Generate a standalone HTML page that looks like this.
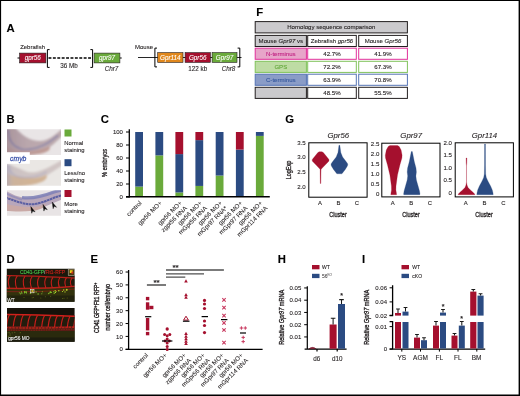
<!DOCTYPE html>
<html><head><meta charset="utf-8"><title>Figure</title>
<style>
html,body{margin:0;padding:0;background:#fff;}
body{width:520px;height:396px;overflow:hidden;position:relative;}
svg{position:absolute;left:0;top:0;display:block;font-family:"Liberation Sans",sans-serif;}
</style></head><body>
<svg width="520" height="396" viewBox="0 0 520 396">
<rect x="0" y="0" width="520" height="396" fill="#fff"/>
<text x="6.6" y="32" font-size="11.3" text-anchor="start" font-weight="bold" font-style="normal" fill="#000" stroke="#000" stroke-width="0.1" >A</text>
<text x="20.2" y="48.7" font-size="5.95" text-anchor="start" font-weight="normal" font-style="normal" fill="#231f20" stroke="#231f20" stroke-width="0.1" >Zebrafish</text>
<path d="M17.5 58H20M120 58H121.7" stroke="#000" stroke-width="1"/>
<rect x="19.6" y="53.1" width="26.3" height="9.8" fill="#a5102e" stroke="#231f20" stroke-width="0.6"/>
<text x="32.8" y="60.2" font-size="6.3" text-anchor="middle" font-weight="normal" font-style="italic" fill="#fff" stroke="#fff" stroke-width="0.1" >gpr56</text>
<path d="M49.6 49.6H47.4V67.4H49.6M90.4 49.6H92.6V67.4H90.4" fill="none" stroke="#000" stroke-width="1"/>
<path d="M48.5 58H92" stroke="#000" stroke-width="1.35" stroke-dasharray="2.9 1.5"/>
<rect x="94.1" y="53.1" width="25.8" height="9.8" fill="#6aaa3b" stroke="#231f20" stroke-width="0.6"/>
<text x="107" y="60.2" font-size="6.3" text-anchor="middle" font-weight="normal" font-style="italic" fill="#fff" stroke="#fff" stroke-width="0.1" >gpr97</text>
<text x="69" y="67.6" font-size="6.3" text-anchor="middle" font-weight="normal" font-style="normal" fill="#231f20" stroke="#231f20" stroke-width="0.1" >36 Mb</text>
<text x="111.5" y="71" font-size="6.3" text-anchor="middle" font-weight="normal" font-style="italic" fill="#231f20" stroke="#231f20" stroke-width="0.1" >Chr7</text>
<text x="135" y="48.7" font-size="6.0" text-anchor="start" font-weight="normal" font-style="normal" fill="#231f20" stroke="#231f20" stroke-width="0.1" >Mouse</text>
<path d="M138 57.5H241.5" stroke="#000" stroke-width="0.85"/>
<path d="M157 48.1H154.9V66.9H157M237.6 48.1H239.8V66.9H237.6" fill="none" stroke="#000" stroke-width="1"/>
<rect x="157.7" y="52.6" width="25.3" height="9.8" fill="#e0871c" stroke="#231f20" stroke-width="0.6"/>
<rect x="185.1" y="52.6" width="25.3" height="9.8" fill="#a5102e" stroke="#231f20" stroke-width="0.6"/>
<rect x="212.1" y="52.6" width="24.9" height="9.8" fill="#6aaa3b" stroke="#231f20" stroke-width="0.6"/>
<text x="170.3" y="59.7" font-size="6.3" text-anchor="middle" font-weight="normal" font-style="italic" fill="#fff" stroke="#fff" stroke-width="0.1" >Gpr114</text>
<text x="197.7" y="59.7" font-size="6.3" text-anchor="middle" font-weight="normal" font-style="italic" fill="#fff" stroke="#fff" stroke-width="0.1" >Gpr56</text>
<text x="224.5" y="59.7" font-size="6.3" text-anchor="middle" font-weight="normal" font-style="italic" fill="#fff" stroke="#fff" stroke-width="0.1" >Gpr97</text>
<text x="197.7" y="70.7" font-size="6.3" text-anchor="middle" font-weight="normal" font-style="normal" fill="#231f20" stroke="#231f20" stroke-width="0.1" >122 kb</text>
<text x="228.5" y="70.7" font-size="6.3" text-anchor="middle" font-weight="normal" font-style="italic" fill="#231f20" stroke="#231f20" stroke-width="0.1" >Chr8</text>
<text x="256.2" y="15.6" font-size="11.3" text-anchor="start" font-weight="bold" font-style="normal" fill="#000" stroke="#000" stroke-width="0.1" >F</text>
<rect x="255.2" y="21.6" width="152.2" height="11.3" fill="#cbcacd" stroke="#231f20" stroke-width="1"/>
<text x="331.3" y="29.3" font-size="6.05" text-anchor="middle" font-weight="normal" font-style="normal" fill="#231f20" stroke="#231f20" stroke-width="0.1" >Homology sequence comparison</text>
<rect x="255.2" y="35.4" width="51.2" height="11.1" fill="#cbcacd" stroke="#231f20" stroke-width="1"/>
<rect x="307.7" y="35.4" width="48.6" height="11.1" fill="#fff" stroke="#231f20" stroke-width="1"/>
<rect x="358.7" y="35.4" width="48.7" height="11.1" fill="#fff" stroke="#231f20" stroke-width="1"/>
<text x="280.8" y="43.1" font-size="6.05" text-anchor="middle" font-weight="normal" font-style="normal" fill="#231f20" stroke="#231f20" stroke-width="0.1" >Mouse <tspan font-style="italic">Gpr97</tspan> vs</text>
<text x="332" y="43.1" font-size="6.05" text-anchor="middle" font-weight="normal" font-style="normal" fill="#231f20" stroke="#231f20" stroke-width="0.1" >Zebrafish <tspan font-style="italic">gpr56</tspan></text>
<text x="383" y="43.1" font-size="6.05" text-anchor="middle" font-weight="normal" font-style="normal" fill="#231f20" stroke="#231f20" stroke-width="0.1" >Mouse <tspan font-style="italic">Gpr56</tspan></text>
<rect x="255.2" y="48.2" width="51.2" height="11.1" fill="#e7a5c9" stroke="#e0309a" stroke-width="1"/>
<rect x="307.7" y="48.2" width="48.6" height="11.1" fill="#fff" stroke="#e0309a" stroke-width="1"/>
<rect x="358.7" y="48.2" width="48.7" height="11.1" fill="#fff" stroke="#e0309a" stroke-width="1"/>
<text x="280.8" y="55.900000000000006" font-size="6.05" text-anchor="middle" font-weight="normal" font-style="normal" fill="#c01f80" stroke="#c01f80" stroke-width="0.1" >N-terminus</text>
<text x="332" y="55.900000000000006" font-size="6.15" text-anchor="middle" font-weight="normal" font-style="normal" fill="#231f20" stroke="#231f20" stroke-width="0.1" >42.7%</text>
<text x="383" y="55.900000000000006" font-size="6.15" text-anchor="middle" font-weight="normal" font-style="normal" fill="#231f20" stroke="#231f20" stroke-width="0.1" >41.9%</text>
<rect x="255.2" y="61.3" width="51.2" height="11.1" fill="#bedca4" stroke="#80c25b" stroke-width="1"/>
<rect x="307.7" y="61.3" width="48.6" height="11.1" fill="#fff" stroke="#80c25b" stroke-width="1"/>
<rect x="358.7" y="61.3" width="48.7" height="11.1" fill="#fff" stroke="#80c25b" stroke-width="1"/>
<text x="280.8" y="69.0" font-size="6.05" text-anchor="middle" font-weight="normal" font-style="normal" fill="#62a83a" stroke="#62a83a" stroke-width="0.1" >GPS</text>
<text x="332" y="69.0" font-size="6.15" text-anchor="middle" font-weight="normal" font-style="normal" fill="#231f20" stroke="#231f20" stroke-width="0.1" >72.2%</text>
<text x="383" y="69.0" font-size="6.15" text-anchor="middle" font-weight="normal" font-style="normal" fill="#231f20" stroke="#231f20" stroke-width="0.1" >67.3%</text>
<rect x="255.2" y="74.2" width="51.2" height="11.1" fill="#8a9cc7" stroke="#5473b4" stroke-width="1"/>
<rect x="307.7" y="74.2" width="48.6" height="11.1" fill="#fff" stroke="#5473b4" stroke-width="1"/>
<rect x="358.7" y="74.2" width="48.7" height="11.1" fill="#fff" stroke="#5473b4" stroke-width="1"/>
<text x="280.8" y="81.9" font-size="6.05" text-anchor="middle" font-weight="normal" font-style="normal" fill="#35579c" stroke="#35579c" stroke-width="0.1" >C-terminus</text>
<text x="332" y="81.9" font-size="6.15" text-anchor="middle" font-weight="normal" font-style="normal" fill="#231f20" stroke="#231f20" stroke-width="0.1" >63.9%</text>
<text x="383" y="81.9" font-size="6.15" text-anchor="middle" font-weight="normal" font-style="normal" fill="#231f20" stroke="#231f20" stroke-width="0.1" >70.8%</text>
<rect x="255.2" y="87.3" width="51.2" height="11.1" fill="#cbcacd" stroke="#231f20" stroke-width="1"/>
<rect x="307.7" y="87.3" width="48.6" height="11.1" fill="#fff" stroke="#231f20" stroke-width="1"/>
<rect x="358.7" y="87.3" width="48.7" height="11.1" fill="#fff" stroke="#231f20" stroke-width="1"/>
<text x="332" y="95.0" font-size="6.15" text-anchor="middle" font-weight="normal" font-style="normal" fill="#231f20" stroke="#231f20" stroke-width="0.1" >48.5%</text>
<text x="383" y="95.0" font-size="6.15" text-anchor="middle" font-weight="normal" font-style="normal" fill="#231f20" stroke="#231f20" stroke-width="0.1" >55.5%</text>
<text x="6.6" y="123.2" font-size="11.3" text-anchor="start" font-weight="bold" font-style="normal" fill="#000" stroke="#000" stroke-width="0.1" >B</text>
<defs>
<filter id="bl1" x="-10%" y="-10%" width="120%" height="120%"><feGaussianBlur stdDeviation="1.2"/></filter>
<filter id="bl2" x="-10%" y="-10%" width="120%" height="120%"><feGaussianBlur stdDeviation="0.6"/></filter>
<filter id="bl3" x="-10%" y="-10%" width="120%" height="120%"><feGaussianBlur stdDeviation="0.85"/></filter>
<clipPath id="cb1"><rect x="7" y="129.3" width="54" height="25.6"/></clipPath>
<clipPath id="cb2"><rect x="7" y="160" width="54" height="25.7"/></clipPath>
<clipPath id="cb3"><rect x="7" y="190.3" width="54" height="25.4"/></clipPath>
<clipPath id="cd1"><rect x="7" y="269" width="67.5" height="33"/></clipPath>
<clipPath id="cd2"><rect x="7" y="307.5" width="67.5" height="34"/></clipPath>
</defs>
<linearGradient id="lg1" x1="0" x2="1" y1="0" y2="0"><stop offset="0" stop-color="#a08a92" stop-opacity="0.8"/><stop offset="0.4" stop-color="#a996a3" stop-opacity="0.15"/><stop offset="1" stop-color="#a996a3" stop-opacity="0"/></linearGradient>
<g clip-path="url(#cb1)"><rect x="7" y="129" width="54" height="27" fill="#e9e5e6"/>
<g filter="url(#bl3)">
<path d="M5 127 L15 127 C21 135 30 141 40 141 C48 141 55 135 63 128 L63 135 C57 141 53 145 49.5 147 C48 152 40 154 30 155 L5 156 Z" fill="#bdaaae"/>
<path d="M5 146 C15 151 25 152 35 150.5 C42 149.5 47 147.5 49.7 146.5 C51 150 47 152.5 40 153.8 C30 155.5 15 156 5 156Z" fill="#c09b94"/>
<path d="M5 127 L15 127 C21 135 30 141 40 141 C48 141 55 135 63 128 L63 135 C57 141 53 145 49.5 147 C48 152 40 154 30 155 L5 156 Z" fill="url(#lg1)"/>
<path d="M8.3 130 C8.5 140 12 146 22 149.3 C30 150.5 43 147 52 140 L58 135.5" fill="none" stroke="#4f5aa4" stroke-width="1.15" stroke-dasharray="1.4 0.6" opacity="0.9"/>
</g></g>
<linearGradient id="lg2" x1="0" x2="1" y1="0" y2="0"><stop offset="0" stop-color="#a9a3b6" stop-opacity="0.8"/><stop offset="0.35" stop-color="#b5afbd" stop-opacity="0.15"/><stop offset="1" stop-color="#b5afbd" stop-opacity="0"/></linearGradient>
<g clip-path="url(#cb2)"><rect x="7" y="159" width="54" height="28" fill="#eae7e4"/>
<g filter="url(#bl3)">
<path d="M5 163.5 C13 165 20 169.5 28 172 C36 173.5 45 169.5 53 165 L63 159.5 L63 165 C57 169 52 172 46.5 175.5 C47 180 40 183 30 185 L5 187Z" fill="#d0c5c4"/>
<path d="M5 172 C12 176.5 22 178.5 34 178 C40 177.5 44 176 46.6 175 C48 179 43 182 37 183.5 C28 186 15 186.5 5 186.5Z" fill="#d1b496"/>
<path d="M5 163.5 C13 165 20 169.5 28 172 L30 185 L5 187Z" fill="url(#lg2)"/>
<path d="M8.5 165 C9 172 13 176 21 177.3 C30 178.2 40 176.5 46 172" fill="none" stroke="#8f92bf" stroke-width="1.1" stroke-dasharray="1.1 0.9" opacity="0.85"/>
</g></g>
<g clip-path="url(#cb3)"><rect x="7" y="190" width="54" height="27" fill="#e8e4e5"/>
<g filter="url(#bl2)">
<path d="M5 190.5 C12 194 18 197.5 27 198 C37 198 46 194 54 191.5 L63 189 L63 199 C57 201.5 51 204 45 206.5 C38 210 25 211.5 5 210.5Z" fill="#b8a7bb"/>
<path d="M5 203.5 C15 206.5 28 208 38 206.5 L46 204 C46 207 40 210 33 210.8 C22 212 12 211.5 5 210.5Z" fill="#c9a9a6"/>
<path d="M22 197.6 C33 199 45 195.5 54 192 L63 189.6" fill="none" stroke="#7d7fb6" stroke-width="3.2" opacity="0.85"/>
<path d="M5 197.5 C14 200 20 203.5 30 204.3 C40 204.3 48 200 56 197 L63 195" fill="none" stroke="#4d559f" stroke-width="2.1" stroke-dasharray="2.6 0.5" opacity="0.88"/>
<path d="M5 193 C12 196 16 198 22 199.5" fill="none" stroke="#8a88b8" stroke-width="2" opacity="0.7"/>
</g>
<path d="M30.8 206.6L35.1 211.9L32.7 210.9L31.7 213.3Z" fill="#0d0d0d" stroke="#0d0d0d" stroke-width="0.4" stroke-linejoin="round"/>
<path d="M43 204.4L47.3 209.7L44.9 208.7L43.9 211.1Z" fill="#0d0d0d" stroke="#0d0d0d" stroke-width="0.4" stroke-linejoin="round"/>
<path d="M52.2 202L56.5 207.3L54.1 206.3L53.1 208.7Z" fill="#0d0d0d" stroke="#0d0d0d" stroke-width="0.4" stroke-linejoin="round"/>
</g>
<rect x="7" y="152.2" width="22.8" height="11.6" fill="#fff"/>
<text x="10.1" y="160.7" font-size="6.8" text-anchor="start" font-weight="normal" font-style="italic" fill="#3f57ac" stroke="#3f57ac" stroke-width="0.3" >cmyb</text>
<rect x="64.5" y="129.5" width="7" height="7" fill="#6aaa3b"/>
<text x="64.3" y="145.2" font-size="5.9" text-anchor="start" font-weight="normal" font-style="normal" fill="#231f20" stroke="#231f20" stroke-width="0.1" >Normal</text>
<text x="64.3" y="152.4" font-size="5.9" text-anchor="start" font-weight="normal" font-style="normal" fill="#231f20" stroke="#231f20" stroke-width="0.1" >staining</text>
<rect x="64.5" y="159.2" width="7" height="7" fill="#2b4b82"/>
<text x="64.3" y="174.89999999999998" font-size="5.9" text-anchor="start" font-weight="normal" font-style="normal" fill="#231f20" stroke="#231f20" stroke-width="0.1" >Less/no</text>
<text x="64.3" y="182.1" font-size="5.9" text-anchor="start" font-weight="normal" font-style="normal" fill="#231f20" stroke="#231f20" stroke-width="0.1" >staining</text>
<rect x="64.5" y="190" width="7" height="7" fill="#a5102e"/>
<text x="64.3" y="205.7" font-size="5.9" text-anchor="start" font-weight="normal" font-style="normal" fill="#231f20" stroke="#231f20" stroke-width="0.1" >More</text>
<text x="64.3" y="212.9" font-size="5.9" text-anchor="start" font-weight="normal" font-style="normal" fill="#231f20" stroke="#231f20" stroke-width="0.1" >staining</text>
<text x="100.8" y="123.2" font-size="11.3" text-anchor="start" font-weight="bold" font-style="normal" fill="#000" stroke="#000" stroke-width="0.1" >C</text>
<rect x="135.20" y="186.60" width="7.8" height="10.40" fill="#6aaa3b"/>
<rect x="135.20" y="132.00" width="7.8" height="54.60" fill="#2b4b82"/>
<rect x="155.40" y="155.40" width="7.8" height="41.60" fill="#6aaa3b"/>
<rect x="155.40" y="132.00" width="7.8" height="23.40" fill="#2b4b82"/>
<rect x="175.40" y="192.45" width="7.8" height="4.55" fill="#6aaa3b"/>
<rect x="175.40" y="154.10" width="7.8" height="38.35" fill="#2b4b82"/>
<rect x="175.40" y="132.00" width="7.8" height="22.10" fill="#a5102e"/>
<rect x="195.40" y="185.95" width="7.8" height="11.05" fill="#6aaa3b"/>
<rect x="195.40" y="140.12" width="7.8" height="45.82" fill="#2b4b82"/>
<rect x="195.40" y="132.00" width="7.8" height="8.12" fill="#a5102e"/>
<rect x="215.70" y="175.55" width="7.8" height="21.45" fill="#6aaa3b"/>
<rect x="215.70" y="132.00" width="7.8" height="43.55" fill="#2b4b82"/>
<rect x="235.90" y="149.55" width="7.8" height="47.45" fill="#2b4b82"/>
<rect x="235.90" y="132.00" width="7.8" height="17.55" fill="#a5102e"/>
<rect x="255.90" y="135.90" width="7.8" height="61.10" fill="#6aaa3b"/>
<rect x="255.90" y="132.00" width="7.8" height="3.90" fill="#2b4b82"/>
<path d="M129.3 129.3V197.4" stroke="#000" stroke-width="1.3" fill="none"/><path d="M126 196.7H269.8" stroke="#000" stroke-width="1.5" fill="none"/>
<path d="M126 197.00H129.3" stroke="#000" stroke-width="1"/>
<text x="122.9" y="199.15" font-size="6" text-anchor="end" font-weight="normal" font-style="normal" fill="#231f20" stroke="#231f20" stroke-width="0.1" >0</text>
<path d="M126 184.00H129.3" stroke="#000" stroke-width="1"/>
<text x="122.9" y="186.15" font-size="6" text-anchor="end" font-weight="normal" font-style="normal" fill="#231f20" stroke="#231f20" stroke-width="0.1" >20</text>
<path d="M126 171.00H129.3" stroke="#000" stroke-width="1"/>
<text x="122.9" y="173.15" font-size="6" text-anchor="end" font-weight="normal" font-style="normal" fill="#231f20" stroke="#231f20" stroke-width="0.1" >40</text>
<path d="M126 158.00H129.3" stroke="#000" stroke-width="1"/>
<text x="122.9" y="160.15" font-size="6" text-anchor="end" font-weight="normal" font-style="normal" fill="#231f20" stroke="#231f20" stroke-width="0.1" >60</text>
<path d="M126 145.00H129.3" stroke="#000" stroke-width="1"/>
<text x="122.9" y="147.15" font-size="6" text-anchor="end" font-weight="normal" font-style="normal" fill="#231f20" stroke="#231f20" stroke-width="0.1" >80</text>
<path d="M126 132.00H129.3" stroke="#000" stroke-width="1"/>
<text x="122.9" y="134.15" font-size="6" text-anchor="end" font-weight="normal" font-style="normal" fill="#231f20" stroke="#231f20" stroke-width="0.1" >100</text>
<text transform="translate(106.6 162.9) rotate(-90)" font-size="7" text-anchor="middle" textLength="28" lengthAdjust="spacingAndGlyphs" fill="#231f20" stroke="#231f20" stroke-width="0.3">% embryos</text>
<text transform="translate(142.10 203.5) rotate(-45)" x="0" y="0.00" font-size="6.2" text-anchor="end" fill="#231f20" stroke="#231f20" stroke-width="0.06">control</text>
<text transform="translate(162.30 203.5) rotate(-45)" x="0" y="0.00" font-size="6.2" text-anchor="end" fill="#231f20" stroke="#231f20" stroke-width="0.06">gpr56 MO+</text>
<text transform="translate(182.30 203.5) rotate(-45)" x="0" y="0.00" font-size="6.2" text-anchor="end" fill="#231f20" stroke="#231f20" stroke-width="0.06">gpr56 MO+</text>
<text transform="translate(182.30 203.5) rotate(-45)" x="0" y="7.20" font-size="6.2" text-anchor="end" fill="#231f20" stroke="#231f20" stroke-width="0.06">zgpr56 RNA</text>
<text transform="translate(202.30 203.5) rotate(-45)" x="0" y="0.00" font-size="6.2" text-anchor="end" fill="#231f20" stroke="#231f20" stroke-width="0.06">gpr56 MO+</text>
<text transform="translate(202.30 203.5) rotate(-45)" x="0" y="7.20" font-size="6.2" text-anchor="end" fill="#231f20" stroke="#231f20" stroke-width="0.06">mGpr56 RNA</text>
<text transform="translate(222.60 203.5) rotate(-45)" x="0" y="0.00" font-size="6.2" text-anchor="end" fill="#231f20" stroke="#231f20" stroke-width="0.06">gpr56 MO+</text>
<text transform="translate(222.60 203.5) rotate(-45)" x="0" y="7.20" font-size="6.2" text-anchor="end" fill="#231f20" stroke="#231f20" stroke-width="0.06">mGpr97 RNA*</text>
<text transform="translate(242.80 203.5) rotate(-45)" x="0" y="0.00" font-size="6.2" text-anchor="end" fill="#231f20" stroke="#231f20" stroke-width="0.06">gpr56 MO+</text>
<text transform="translate(242.80 203.5) rotate(-45)" x="0" y="7.20" font-size="6.2" text-anchor="end" fill="#231f20" stroke="#231f20" stroke-width="0.06">mGpr97 RNA</text>
<text transform="translate(262.80 203.5) rotate(-45)" x="0" y="0.00" font-size="6.2" text-anchor="end" fill="#231f20" stroke="#231f20" stroke-width="0.06">gpr56 MO+</text>
<text transform="translate(262.80 203.5) rotate(-45)" x="0" y="7.20" font-size="6.2" text-anchor="end" fill="#231f20" stroke="#231f20" stroke-width="0.06">mGpr114 RNA</text>
<text x="285.3" y="123.4" font-size="11.3" text-anchor="start" font-weight="bold" font-style="normal" fill="#000" stroke="#000" stroke-width="0.1" >G</text>
<rect x="308.8" y="142.8" width="58.3" height="54.4" fill="#fff" stroke="#000" stroke-width="1"/>
<rect x="381.8" y="143.2" width="58.2" height="53.7" fill="#fff" stroke="#000" stroke-width="1"/>
<rect x="455.2" y="142.8" width="58.2" height="54.1" fill="#fff" stroke="#000" stroke-width="1"/>
<text x="338.3" y="137.6" font-size="7.8" text-anchor="middle" font-weight="normal" font-style="italic" fill="#231f20" stroke="#231f20" stroke-width="0.1" >Gpr56</text>
<text x="411.2" y="137.8" font-size="7.8" text-anchor="middle" font-weight="normal" font-style="italic" fill="#231f20" stroke="#231f20" stroke-width="0.1" >Gpr97</text>
<text x="484.5" y="137.8" font-size="7.8" text-anchor="middle" font-weight="normal" font-style="italic" fill="#231f20" stroke="#231f20" stroke-width="0.1" >Gpr114</text>
<text x="305.7" y="144.79999999999998" font-size="6.1" text-anchor="end" font-weight="normal" font-style="normal" fill="#231f20" stroke="#231f20" stroke-width="0.1" >3.5</text>
<text x="305.7" y="159.29999999999998" font-size="6.1" text-anchor="end" font-weight="normal" font-style="normal" fill="#231f20" stroke="#231f20" stroke-width="0.1" >3.0</text>
<text x="305.7" y="174.1" font-size="6.1" text-anchor="end" font-weight="normal" font-style="normal" fill="#231f20" stroke="#231f20" stroke-width="0.1" >2.5</text>
<text x="305.7" y="189.1" font-size="6.1" text-anchor="end" font-weight="normal" font-style="normal" fill="#231f20" stroke="#231f20" stroke-width="0.1" >2.0</text>
<text x="379.3" y="146.29999999999998" font-size="6.1" text-anchor="end" font-weight="normal" font-style="normal" fill="#231f20" stroke="#231f20" stroke-width="0.1" >2.5</text>
<text x="379.3" y="156.0" font-size="6.1" text-anchor="end" font-weight="normal" font-style="normal" fill="#231f20" stroke="#231f20" stroke-width="0.1" >2.0</text>
<text x="379.3" y="165.9" font-size="6.1" text-anchor="end" font-weight="normal" font-style="normal" fill="#231f20" stroke="#231f20" stroke-width="0.1" >1.5</text>
<text x="379.3" y="175.9" font-size="6.1" text-anchor="end" font-weight="normal" font-style="normal" fill="#231f20" stroke="#231f20" stroke-width="0.1" >1.0</text>
<text x="379.3" y="186.1" font-size="6.1" text-anchor="end" font-weight="normal" font-style="normal" fill="#231f20" stroke="#231f20" stroke-width="0.1" >0.5</text>
<text x="379.3" y="196.1" font-size="6.1" text-anchor="end" font-weight="normal" font-style="normal" fill="#231f20" stroke="#231f20" stroke-width="0.1" >0</text>
<text x="452" y="144.79999999999998" font-size="6.1" text-anchor="end" font-weight="normal" font-style="normal" fill="#231f20" stroke="#231f20" stroke-width="0.1" >2.0</text>
<text x="452" y="157.29999999999998" font-size="6.1" text-anchor="end" font-weight="normal" font-style="normal" fill="#231f20" stroke="#231f20" stroke-width="0.1" >1.5</text>
<text x="452" y="169.7" font-size="6.1" text-anchor="end" font-weight="normal" font-style="normal" fill="#231f20" stroke="#231f20" stroke-width="0.1" >1.0</text>
<text x="452" y="182.2" font-size="6.1" text-anchor="end" font-weight="normal" font-style="normal" fill="#231f20" stroke="#231f20" stroke-width="0.1" >0.5</text>
<text x="452" y="195.1" font-size="6.1" text-anchor="end" font-weight="normal" font-style="normal" fill="#231f20" stroke="#231f20" stroke-width="0.1" >0</text>
<text transform="translate(291.0 170) rotate(-90)" font-size="6.8" text-anchor="middle" textLength="18.5" lengthAdjust="spacingAndGlyphs" fill="#231f20" stroke="#231f20" stroke-width="0.3">LogExp</text>
<text x="320" y="205.4" font-size="5.9" text-anchor="middle" font-weight="normal" font-style="normal" fill="#231f20" stroke="#231f20" stroke-width="0.1" >A</text>
<text x="338.5" y="205.4" font-size="5.9" text-anchor="middle" font-weight="normal" font-style="normal" fill="#231f20" stroke="#231f20" stroke-width="0.1" >B</text>
<text x="357" y="205.4" font-size="5.9" text-anchor="middle" font-weight="normal" font-style="normal" fill="#231f20" stroke="#231f20" stroke-width="0.1" >C</text>
<text x="392.6" y="205.4" font-size="5.9" text-anchor="middle" font-weight="normal" font-style="normal" fill="#231f20" stroke="#231f20" stroke-width="0.1" >A</text>
<text x="411.3" y="205.4" font-size="5.9" text-anchor="middle" font-weight="normal" font-style="normal" fill="#231f20" stroke="#231f20" stroke-width="0.1" >B</text>
<text x="429.8" y="205.4" font-size="5.9" text-anchor="middle" font-weight="normal" font-style="normal" fill="#231f20" stroke="#231f20" stroke-width="0.1" >C</text>
<text x="465.6" y="205.4" font-size="5.9" text-anchor="middle" font-weight="normal" font-style="normal" fill="#231f20" stroke="#231f20" stroke-width="0.1" >A</text>
<text x="484.5" y="205.4" font-size="5.9" text-anchor="middle" font-weight="normal" font-style="normal" fill="#231f20" stroke="#231f20" stroke-width="0.1" >B</text>
<text x="503.5" y="205.4" font-size="5.9" text-anchor="middle" font-weight="normal" font-style="normal" fill="#231f20" stroke="#231f20" stroke-width="0.1" >C</text>
<text x="338" y="217.1" font-size="7.3" text-anchor="middle" textLength="17.6" lengthAdjust="spacingAndGlyphs" fill="#231f20" stroke="#231f20" stroke-width="0.3">Cluster</text>
<text x="411" y="217.1" font-size="7.3" text-anchor="middle" textLength="17.6" lengthAdjust="spacingAndGlyphs" fill="#231f20" stroke="#231f20" stroke-width="0.3">Cluster</text>
<text x="484" y="217.1" font-size="7.3" text-anchor="middle" textLength="17.6" lengthAdjust="spacingAndGlyphs" fill="#231f20" stroke="#231f20" stroke-width="0.3">Cluster</text>
<path d="M319.30 151.70 L317.90 152.50 L312.40 159.30 L312.15 160.30 L312.40 161.20 L319.20 168.30 L320.15 169.50 L320.30 183.50 L320.90 183.50 L321.05 169.50 L322.00 168.30 L328.80 161.20 L329.05 160.30 L328.80 159.30 L323.30 152.50 L321.90 151.70Z" fill="#a5102e" stroke="#a5102e" stroke-width="0.25" stroke-linejoin="round"/>
<path d="M338.95 145.30 L338.60 148.00 L338.00 152.50 L336.20 157.00 L333.10 161.00 L331.30 163.50 L331.00 164.80 L331.40 166.00 L333.50 169.40 L335.50 172.00 L336.40 173.30 L337.00 173.80 L341.80 173.80 L342.40 173.30 L343.30 172.00 L345.30 169.40 L347.40 166.00 L347.80 164.80 L347.50 163.50 L345.70 161.00 L342.60 157.00 L340.80 152.50 L340.20 148.00 L339.85 145.30Z" fill="#2b4b82" stroke="#2b4b82" stroke-width="0.25" stroke-linejoin="round"/>
<path d="M389.90 145.50 L388.20 146.50 L386.30 150.00 L385.30 155.30 L385.50 158.00 L387.50 165.00 L389.90 175.00 L391.40 186.00 L391.50 190.00 L391.00 193.00 L390.80 194.70 L396.60 194.70 L396.40 193.00 L395.90 190.00 L396.00 186.00 L397.50 175.00 L399.90 165.00 L401.90 158.00 L402.10 155.30 L401.10 150.00 L399.20 146.50 L397.50 145.50Z" fill="#a5102e" stroke="#a5102e" stroke-width="0.25" stroke-linejoin="round"/>
<path d="M411.30 151.60 L410.60 155.00 L409.20 162.00 L407.60 168.00 L407.20 172.00 L407.70 176.00 L407.20 180.00 L405.50 186.00 L404.10 191.00 L403.60 194.00 L403.80 194.70 L419.80 194.70 L420.00 194.00 L419.50 191.00 L418.10 186.00 L416.40 180.00 L415.90 176.00 L416.40 172.00 L416.00 168.00 L414.40 162.00 L413.00 155.00 L412.30 151.60Z" fill="#2b4b82" stroke="#2b4b82" stroke-width="0.25" stroke-linejoin="round"/>
<path d="M466.10 158.00 L466.20 163.00 L466.46 166.00 L466.46 182.00 L466.00 185.00 L465.00 187.50 L462.60 190.00 L460.00 192.30 L458.30 194.00 L458.10 194.70 L474.90 194.70 L474.70 194.00 L473.00 192.30 L470.40 190.00 L468.00 187.50 L467.00 185.00 L466.54 182.00 L466.54 166.00 L466.80 163.00 L466.90 158.00Z" fill="#a5102e" stroke="#a5102e" stroke-width="0.25" stroke-linejoin="round"/>
<path d="M484.55 144.00 L484.50 165.00 L484.35 174.00 L483.70 177.50 L482.10 181.00 L479.30 186.30 L477.70 190.00 L477.00 193.00 L476.80 194.70 L493.20 194.70 L493.00 193.00 L492.30 190.00 L490.70 186.30 L487.90 181.00 L486.30 177.50 L485.65 174.00 L485.50 165.00 L485.45 144.00Z" fill="#2b4b82" stroke="#2b4b82" stroke-width="0.25" stroke-linejoin="round"/>
<text x="6.6" y="263.2" font-size="11.3" text-anchor="start" font-weight="bold" font-style="normal" fill="#000" stroke="#000" stroke-width="0.1" >D</text>
<clipPath id="cd1b"><rect x="6.8" y="268.8" width="67.7" height="33"/></clipPath><clipPath id="cd2b"><rect x="7" y="308" width="67.6" height="33.7"/></clipPath>
<g clip-path="url(#cd1b)"><rect x="6" y="268" width="70" height="35" fill="#1a180c"/>
<g filter="url(#bl2)">
<rect x="6" y="276" width="70" height="12" fill="#211a0c"/>
<rect x="6" y="288" width="70" height="8" fill="#33300f"/>
<rect x="6" y="295.5" width="70" height="8" fill="#23220d"/>
<path d="M6 275.6 C25 275.2 50 276.8 76 278.2" stroke="#b0201a" stroke-width="1.2" fill="none"/>
<path d="M6 288.3 C25 288.6 50 288.4 76 286.2" stroke="#b8231a" stroke-width="1.5" fill="none"/>
<path d="M6 291.5 C25 292 50 291.5 76 289" stroke="#6e2712" stroke-width="1.2" fill="none"/>
<path d="M10.2 275.7 C7.8 278.7 8.2 284.4 9.6 288.4" stroke="#c4201a" stroke-width="1.1" fill="none"/>
<path d="M17.3 275.9 C14.9 278.9 15.3 284.4 16.7 288.4" stroke="#c4201a" stroke-width="1.1" fill="none"/>
<path d="M25.1 276.2 C22.7 279.2 23.1 284.4 24.5 288.4" stroke="#c4201a" stroke-width="1.1" fill="none"/>
<path d="M32.2 276.5 C29.8 279.5 30.2 284.4 31.6 288.4" stroke="#c4201a" stroke-width="1.1" fill="none"/>
<path d="M39.3 276.8 C36.9 279.8 37.3 284.4 38.7 288.4" stroke="#c4201a" stroke-width="1.1" fill="none"/>
<path d="M46.5 277.0 C44.1 280.0 44.5 284.1 45.9 288.1" stroke="#c4201a" stroke-width="1.1" fill="none"/>
<path d="M52.9 277.3 C50.5 280.3 50.9 283.8 52.3 287.8" stroke="#c4201a" stroke-width="1.1" fill="none"/>
<path d="M60.0 277.5 C57.6 280.5 58.0 283.5 59.4 287.5" stroke="#c4201a" stroke-width="1.1" fill="none"/>
<path d="M66.4 277.8 C64.0 280.8 64.4 283.1 65.8 287.1" stroke="#c4201a" stroke-width="1.1" fill="none"/>
<path d="M72.1 278.0 C69.7 281.0 70.1 282.9 71.5 286.9" stroke="#c4201a" stroke-width="1.1" fill="none"/>
<circle cx="36.1" cy="292.0" r="0.68" fill="#7fbf2a"/>
<circle cx="22.1" cy="293.0" r="0.62" fill="#7fbf2a"/>
<circle cx="21.2" cy="292.9" r="0.56" fill="#7fbf2a"/>
<circle cx="42.3" cy="291.8" r="0.57" fill="#7fbf2a"/>
<circle cx="41.8" cy="293.7" r="0.57" fill="#7fbf2a"/>
<circle cx="30.5" cy="293.2" r="0.74" fill="#7fbf2a"/>
<circle cx="50.3" cy="292.0" r="0.75" fill="#7fbf2a"/>
<circle cx="20.6" cy="293.8" r="0.61" fill="#7fbf2a"/>
<circle cx="26.1" cy="291.9" r="0.61" fill="#7fbf2a"/>
<circle cx="63.7" cy="290.0" r="0.67" fill="#b5d62a"/>
<circle cx="53.8" cy="291.6" r="0.66" fill="#7fbf2a"/>
<circle cx="21.5" cy="291.8" r="0.59" fill="#7fbf2a"/>
<circle cx="56.1" cy="291.5" r="0.61" fill="#b5d62a"/>
<circle cx="50.8" cy="292.1" r="0.61" fill="#7fbf2a"/>
<circle cx="62.5" cy="291.5" r="0.60" fill="#b5d62a"/>
<circle cx="50.2" cy="292.4" r="0.73" fill="#7fbf2a"/>
<circle cx="58.8" cy="290.8" r="0.75" fill="#b5d62a"/>
<circle cx="24.6" cy="292.7" r="0.70" fill="#7fbf2a"/>
<circle cx="26.5" cy="292.9" r="0.56" fill="#7fbf2a"/>
<circle cx="55.4" cy="292.4" r="0.66" fill="#b5d62a"/>
<circle cx="67.0" cy="290.0" r="0.69" fill="#b5d62a"/>
<circle cx="51.3" cy="292.4" r="0.64" fill="#7fbf2a"/>
<circle cx="65.0" cy="291.9" r="0.64" fill="#b5d62a"/>
<circle cx="55.2" cy="290.6" r="0.69" fill="#b5d62a"/>
<circle cx="54.2" cy="293.2" r="0.71" fill="#7fbf2a"/>
<circle cx="33.9" cy="292.6" r="0.68" fill="#7fbf2a"/>
<circle cx="19.3" cy="292.8" r="0.58" fill="#7fbf2a"/>
<circle cx="24.6" cy="291.8" r="0.70" fill="#7fbf2a"/>
<circle cx="25.2" cy="292.2" r="0.63" fill="#7fbf2a"/>
<circle cx="66.8" cy="289.4" r="0.64" fill="#b5d62a"/>
<circle cx="48.8" cy="293.5" r="0.71" fill="#7fbf2a"/>
<circle cx="66.4" cy="290.0" r="0.63" fill="#b5d62a"/>
<circle cx="38.1" cy="293.9" r="0.74" fill="#7fbf2a"/>
<circle cx="26.5" cy="292.1" r="0.60" fill="#7fbf2a"/>
<circle cx="24.0" cy="297.5" r="0.5" fill="#5c6a1a"/>
<circle cx="45.3" cy="296.8" r="0.5" fill="#5c6a1a"/>
<circle cx="10.2" cy="297.3" r="0.5" fill="#5c6a1a"/>
<circle cx="32.2" cy="297.7" r="0.5" fill="#5c6a1a"/>
<circle cx="67.2" cy="298.1" r="0.5" fill="#5c6a1a"/>
<circle cx="40.9" cy="297.9" r="0.5" fill="#5c6a1a"/>
<circle cx="50.6" cy="296.2" r="0.5" fill="#5c6a1a"/>
<circle cx="64.0" cy="298.3" r="0.5" fill="#5c6a1a"/>
<circle cx="62.5" cy="298.4" r="0.5" fill="#5c6a1a"/>
<circle cx="33.5" cy="297.2" r="0.5" fill="#5c6a1a"/>
</g></g>
<g clip-path="url(#cd2b)"><rect x="6" y="307" width="70" height="36" fill="#15120a"/>
<g filter="url(#bl2)">
<rect x="6" y="315.5" width="70" height="11" fill="#241a0c"/>
<rect x="6" y="326" width="70" height="5" fill="#5a1f12"/>
<rect x="6" y="331" width="70" height="7" fill="#2c2a10"/>
<rect x="6" y="337.5" width="70" height="6" fill="#1c1a0c"/>
<path d="M6 314.6 C25 314.4 50 315.4 76 316.2" stroke="#d0211c" stroke-width="1.5" fill="none"/>
<path d="M6 327.6 C25 328.2 50 328.2 76 327" stroke="#b3221a" stroke-width="1.4" fill="none" stroke-dasharray="2.5 0.8"/>
<path d="M6 330 C25 330.5 50 330.2 76 329" stroke="#7a2214" stroke-width="1.1" fill="none" stroke-dasharray="1.5 1"/>
<path d="M9.6 314.7 C7.4 317.7 7.2 321.7 6.6 326.3" stroke="#c8201b" stroke-width="1.15" fill="none"/>
<path d="M16.3 314.9 C14.1 317.9 13.9 321.9 13.3 326.5" stroke="#c8201b" stroke-width="1.15" fill="none"/>
<path d="M23.4 315.0 C21.2 318.0 21.0 322.0 20.4 326.6" stroke="#c8201b" stroke-width="1.15" fill="none"/>
<path d="M30.5 315.1 C28.3 318.1 28.1 322.1 27.5 326.7" stroke="#c8201b" stroke-width="1.15" fill="none"/>
<path d="M37.6 315.3 C35.4 318.3 35.2 322.3 34.6 326.9" stroke="#c8201b" stroke-width="1.15" fill="none"/>
<path d="M44.7 315.4 C42.5 318.4 42.3 322.4 41.7 327.0" stroke="#c8201b" stroke-width="1.15" fill="none"/>
<path d="M51.1 315.6 C48.9 318.6 48.7 322.6 48.1 327.2" stroke="#c8201b" stroke-width="1.15" fill="none"/>
<path d="M57.5 315.7 C55.3 318.7 55.1 322.7 54.5 327.3" stroke="#c8201b" stroke-width="1.15" fill="none"/>
<path d="M63.9 315.8 C61.7 318.8 61.5 322.8 60.9 327.4" stroke="#c8201b" stroke-width="1.15" fill="none"/>
<path d="M70.3 315.9 C68.1 318.9 67.9 322.9 67.3 327.5" stroke="#c8201b" stroke-width="1.15" fill="none"/>
<path d="M76.6 316.1 C74.4 319.1 74.2 323.1 73.6 327.7" stroke="#c8201b" stroke-width="1.15" fill="none"/>
<circle cx="10.1" cy="335.2" r="0.6" fill="#56641a"/>
<circle cx="9.2" cy="332.3" r="0.6" fill="#56641a"/>
<circle cx="12.2" cy="332.8" r="0.6" fill="#56641a"/>
<circle cx="14.8" cy="332.3" r="0.6" fill="#56641a"/>
<circle cx="8.0" cy="332.8" r="0.6" fill="#56641a"/>
<circle cx="10.0" cy="333.8" r="0.6" fill="#56641a"/>
<circle cx="8.5" cy="336.4" r="0.6" fill="#56641a"/>
<circle cx="20.3" cy="332.7" r="0.6" fill="#56641a"/>
</g></g>
<text x="19.9" y="273.9" font-size="5.2" fill="#45c24a" stroke="#45c24a" stroke-width="0.15" textLength="45" lengthAdjust="spacingAndGlyphs">CD41-GFP<tspan fill="#ddd" stroke="none">/</tspan><tspan fill="#c8221a" stroke="#c8221a">Flt1-RFP</tspan></text>
<rect x="68.2" y="269" width="6.2" height="6.6" fill="#4a3a12" stroke="#c8c8c0" stroke-width="0.5"/><rect x="69.8" y="270.2" width="2.8" height="2.8" fill="#e8d21c"/><rect x="71.4" y="271.6" width="1.8" height="2" fill="#d92a1c"/>
<rect x="30.5" y="289.3" width="3.5" height="3.5" fill="#6a5a1a" stroke="#eee" stroke-width="0.55"/><rect x="31.6" y="290.2" width="1.4" height="1.6" fill="#e0c82a"/>
<text x="7.3" y="301.9" font-size="4.7" text-anchor="start" font-weight="normal" font-style="normal" fill="#e8e8e8" stroke="#e8e8e8" stroke-width="0.1" >WT</text>
<text x="8.2" y="340.3" font-size="4.8" text-anchor="start" font-weight="normal" font-style="normal" fill="#f2f2f2" stroke="#f2f2f2" stroke-width="0.1" >gpr56 MO</text>
<text x="90.4" y="263.2" font-size="11.3" text-anchor="start" font-weight="bold" font-style="normal" fill="#000" stroke="#000" stroke-width="0.1" >E</text>
<path d="M128.6 270V349.9M125.6 349.3H262.6" stroke="#000" stroke-width="1.3" fill="none"/>
<path d="M125.6 349.30H128.6" stroke="#000" stroke-width="1"/>
<text x="122.8" y="351.45" font-size="6" text-anchor="end" font-weight="normal" font-style="normal" fill="#231f20" stroke="#231f20" stroke-width="0.1" >0</text>
<path d="M125.6 336.42H128.6" stroke="#000" stroke-width="1"/>
<text x="122.8" y="338.57" font-size="6" text-anchor="end" font-weight="normal" font-style="normal" fill="#231f20" stroke="#231f20" stroke-width="0.1" >10</text>
<path d="M125.6 323.54H128.6" stroke="#000" stroke-width="1"/>
<text x="122.8" y="325.69" font-size="6" text-anchor="end" font-weight="normal" font-style="normal" fill="#231f20" stroke="#231f20" stroke-width="0.1" >20</text>
<path d="M125.6 310.66H128.6" stroke="#000" stroke-width="1"/>
<text x="122.8" y="312.81" font-size="6" text-anchor="end" font-weight="normal" font-style="normal" fill="#231f20" stroke="#231f20" stroke-width="0.1" >30</text>
<path d="M125.6 297.78H128.6" stroke="#000" stroke-width="1"/>
<text x="122.8" y="299.93" font-size="6" text-anchor="end" font-weight="normal" font-style="normal" fill="#231f20" stroke="#231f20" stroke-width="0.1" >40</text>
<path d="M125.6 284.90H128.6" stroke="#000" stroke-width="1"/>
<text x="122.8" y="287.05" font-size="6" text-anchor="end" font-weight="normal" font-style="normal" fill="#231f20" stroke="#231f20" stroke-width="0.1" >50</text>
<path d="M125.6 272.02H128.6" stroke="#000" stroke-width="1"/>
<text x="122.8" y="274.17" font-size="6" text-anchor="end" font-weight="normal" font-style="normal" fill="#231f20" stroke="#231f20" stroke-width="0.1" >60</text>
<text transform="translate(99.0 307.8) rotate(-90)" font-size="7.4" text-anchor="middle" textLength="50.2" lengthAdjust="spacingAndGlyphs" fill="#231f20" stroke="#231f20" stroke-width="0.4">CD41 GFP<tspan font-size="4.5" dy="-2.4">+</tspan><tspan dy="2.4">Flt1 RFP</tspan><tspan font-size="4.5" dy="-2.4">+</tspan></text>
<text transform="translate(110.0 307.2) rotate(-90)" font-size="7.4" text-anchor="middle" textLength="46.5" lengthAdjust="spacingAndGlyphs" fill="#231f20" stroke="#231f20" stroke-width="0.35">number cell/embryo</text>
<rect x="145.90" y="296.90" width="3.4" height="3.4" fill="#a5102e"/>
<rect x="145.9" y="302.3" width="3.4" height="7.4" fill="#a5102e"/>
<rect x="149.29999999999998" y="305.8" width="4.1" height="3.4" fill="#a5102e"/>
<rect x="145.9" y="318" width="3.4" height="12.4" fill="#a5102e"/>
<rect x="145.90" y="331.90" width="3.4" height="3.4" fill="#a5102e"/>
<path d="M145.10 316.70H151.30" stroke="#000" stroke-width="1.2"/>
<circle cx="167.20" cy="329.00" r="1.65" fill="#a5102e"/>
<circle cx="164.60" cy="334.60" r="1.5" fill="#a5102e"/>
<circle cx="167.20" cy="335.80" r="1.5" fill="#a5102e"/>
<circle cx="169.80" cy="334.60" r="1.5" fill="#a5102e"/>
<circle cx="167.20" cy="339.00" r="1.5" fill="#a5102e"/>
<circle cx="167.20" cy="343.00" r="1.5" fill="#a5102e"/>
<circle cx="167.20" cy="346.50" r="1.5" fill="#a5102e"/>
<circle cx="167.20" cy="349.50" r="1.5" fill="#a5102e"/>
<circle cx="165.00" cy="341.00" r="1.4" fill="#a5102e"/>
<circle cx="169.40" cy="341.00" r="1.4" fill="#a5102e"/>
<path d="M162.00 341.00H172.40" stroke="#000" stroke-width="1.2"/>
<path d="M186.00 279.20L187.80 282.44H184.20Z" fill="#a5102e"/>
<path d="M186.00 293.00L187.80 296.24H184.20Z" fill="#a5102e"/>
<path d="M186.00 295.60L187.80 298.84H184.20Z" fill="#a5102e"/>
<path d="M186.00 331.70L187.80 334.94H184.20Z" fill="#a5102e"/>
<path d="M186.00 334.40L187.80 337.64H184.20Z" fill="#a5102e"/>
<path d="M186.00 337.00L187.80 340.24H184.20Z" fill="#a5102e"/>
<path d="M186.00 339.40L187.80 342.64H184.20Z" fill="#a5102e"/>
<path d="M186.00 341.80L187.80 345.04H184.20Z" fill="#a5102e"/>
<path d="M186 316.2L188.4 320.1H183.6Z" fill="#fff" stroke="#a5102e" stroke-width="1.0" stroke-linejoin="round"/>
<path d="M182.90 321.20H189.50" stroke="#000" stroke-width="1.2"/>
<circle cx="204.50" cy="300.40" r="1.6" fill="#a5102e"/>
<circle cx="204.50" cy="304.00" r="1.6" fill="#a5102e"/>
<circle cx="204.50" cy="308.50" r="1.6" fill="#a5102e"/>
<circle cx="204.50" cy="321.00" r="1.6" fill="#a5102e"/>
<circle cx="204.50" cy="325.50" r="1.6" fill="#a5102e"/>
<circle cx="204.50" cy="332.60" r="1.6" fill="#a5102e"/>
<path d="M201.60 316.60H208.00" stroke="#000" stroke-width="1.2"/>
<path d="M222.3 298.2L225.7 301.59999999999997M222.3 301.59999999999997L225.7 298.2" stroke="#c8385e" stroke-width="1.1"/>
<path d="M222.3 305.90000000000003L225.7 309.3M222.3 309.3L225.7 305.90000000000003" stroke="#c8385e" stroke-width="1.1"/>
<path d="M222.3 313.90000000000003L225.7 317.3M222.3 317.3L225.7 313.90000000000003" stroke="#c8385e" stroke-width="1.1"/>
<path d="M222.3 321.2L225.7 324.59999999999997M222.3 324.59999999999997L225.7 321.2" stroke="#c8385e" stroke-width="1.1"/>
<path d="M222.3 328.3L225.7 331.7M222.3 331.7L225.7 328.3" stroke="#c8385e" stroke-width="1.1"/>
<path d="M222.3 340.90000000000003L225.7 344.3M222.3 344.3L225.7 340.90000000000003" stroke="#c8385e" stroke-width="1.1"/>
<path d="M221.00 319.60H227.40" stroke="#000" stroke-width="1.2"/>
<path d="M239.70000000000002 328H243.1M241.4 326.3V329.7" stroke="#c8385e" stroke-width="1"/>
<path d="M243.60000000000002 328H247.0M245.3 326.3V329.7" stroke="#c8385e" stroke-width="1"/>
<path d="M241.5 337.4H244.89999999999998M243.2 335.7V339.09999999999997" stroke="#c8385e" stroke-width="1"/>
<path d="M241.5 341.6H244.89999999999998M243.2 339.90000000000003V343.3" stroke="#c8385e" stroke-width="1"/>
<path d="M240.00 333.00H246.00" stroke="#000" stroke-width="1.2"/>
<path d="M146.9 285H166M166 270H223.9M166 273.9H204M166 277.1H185.3" stroke="#505050" stroke-width="1.4"/>
<text x="156.5" y="285" font-size="8" text-anchor="middle" font-weight="bold" font-style="normal" fill="#231f20" stroke="#231f20" stroke-width="0.1" >**</text>
<text x="175.5" y="269.8" font-size="8" text-anchor="middle" font-weight="bold" font-style="normal" fill="#231f20" stroke="#231f20" stroke-width="0.1" >**</text>
<text transform="translate(148.50 355.8) rotate(-45)" x="0" y="0.00" font-size="6.2" text-anchor="end" fill="#231f20" stroke="#231f20" stroke-width="0.06">control</text>
<text transform="translate(167.20 355.8) rotate(-45)" x="0" y="0.00" font-size="6.2" text-anchor="end" fill="#231f20" stroke="#231f20" stroke-width="0.06">gpr56 MO+</text>
<text transform="translate(186.40 355.8) rotate(-45)" x="0" y="0.00" font-size="6.2" text-anchor="end" fill="#231f20" stroke="#231f20" stroke-width="0.06">gpr56 MO+</text>
<text transform="translate(186.40 355.8) rotate(-45)" x="0" y="7.20" font-size="6.2" text-anchor="end" fill="#231f20" stroke="#231f20" stroke-width="0.06">zgpr56 RNA</text>
<text transform="translate(205.20 355.8) rotate(-45)" x="0" y="0.00" font-size="6.2" text-anchor="end" fill="#231f20" stroke="#231f20" stroke-width="0.06">gpr56 MO+</text>
<text transform="translate(205.20 355.8) rotate(-45)" x="0" y="7.20" font-size="6.2" text-anchor="end" fill="#231f20" stroke="#231f20" stroke-width="0.06">mGpr56 RNA</text>
<text transform="translate(224.10 355.8) rotate(-45)" x="0" y="0.00" font-size="6.2" text-anchor="end" fill="#231f20" stroke="#231f20" stroke-width="0.06">gpr56 MO+</text>
<text transform="translate(224.10 355.8) rotate(-45)" x="0" y="7.20" font-size="6.2" text-anchor="end" fill="#231f20" stroke="#231f20" stroke-width="0.06">mGpr97 RNA</text>
<text transform="translate(243.30 355.8) rotate(-45)" x="0" y="0.00" font-size="6.2" text-anchor="end" fill="#231f20" stroke="#231f20" stroke-width="0.06">gpr56 MO+</text>
<text transform="translate(243.30 355.8) rotate(-45)" x="0" y="7.20" font-size="6.2" text-anchor="end" fill="#231f20" stroke="#231f20" stroke-width="0.06">mGpr114 RNA</text>
<text x="277.8" y="263.2" font-size="11.3" text-anchor="start" font-weight="bold" font-style="normal" fill="#000" stroke="#000" stroke-width="0.1" >H</text>
<rect x="312" y="265" width="7.5" height="4.3" fill="#a5102e"/><rect x="312" y="273.8" width="7.5" height="4.3" fill="#2b4b82"/>
<text x="322" y="269.2" font-size="5" text-anchor="start" font-weight="normal" font-style="normal" fill="#231f20" stroke="#231f20" stroke-width="0.1" >WT</text>
<text x="322" y="278" font-size="5" fill="#231f20">56<tspan font-size="3" dy="-1.8">KO</tspan></text>
<path d="M307.3 286.3V349.6M304.6 349.1H346.6M317 349.1V351.5M337.2 349.1V351.5" stroke="#000" stroke-width="1.2" fill="none"/>
<path d="M304.2 336.95H307.3" stroke="#000" stroke-width="1"/>
<text x="301.3" y="339.1" font-size="6" text-anchor="end" font-weight="normal" font-style="normal" fill="#231f20" stroke="#231f20" stroke-width="0.1" >0.01</text>
<path d="M304.2 324.70H307.3" stroke="#000" stroke-width="1"/>
<text x="301.3" y="326.85" font-size="6" text-anchor="end" font-weight="normal" font-style="normal" fill="#231f20" stroke="#231f20" stroke-width="0.1" >0.02</text>
<path d="M304.2 312.45H307.3" stroke="#000" stroke-width="1"/>
<text x="301.3" y="314.6" font-size="6" text-anchor="end" font-weight="normal" font-style="normal" fill="#231f20" stroke="#231f20" stroke-width="0.1" >0.03</text>
<path d="M304.2 300.20H307.3" stroke="#000" stroke-width="1"/>
<text x="301.3" y="302.35" font-size="6" text-anchor="end" font-weight="normal" font-style="normal" fill="#231f20" stroke="#231f20" stroke-width="0.1" >0.04</text>
<path d="M304.2 287.95H307.3" stroke="#000" stroke-width="1"/>
<text x="301.3" y="290.1" font-size="6" text-anchor="end" font-weight="normal" font-style="normal" fill="#231f20" stroke="#231f20" stroke-width="0.1" >0.05</text>
<text transform="translate(283.8 317.3) rotate(-90)" font-size="8" text-anchor="middle" textLength="55" lengthAdjust="spacingAndGlyphs" fill="#231f20" stroke="#231f20" stroke-width="0.35">Relative <tspan font-style="italic">Gpr97</tspan> mRNA</text>
<path d="M308.8 348.8Q312.5 345.9 316.2 348.8Z" fill="#a5102e" stroke="#3a1018" stroke-width="0.4"/>
<rect x="329.6" y="324.5" width="7" height="24.2" fill="#a5102e"/><rect x="338" y="304" width="7" height="44.7" fill="#2b4b82"/>
<path d="M333.1 324.5V318.2M330.8 318.2H335.4" stroke="#1a1a1a" stroke-width="1.05" fill="none"/>
<path d="M341.5 304V299.6M339.2 299.6H343.8" stroke="#1a1a1a" stroke-width="1.05" fill="none"/>
<text x="341.5" y="297.5" font-size="7" text-anchor="middle" font-weight="bold" font-style="normal" fill="#231f20" stroke="#231f20" stroke-width="0.1" >*</text>
<text x="316.8" y="360.6" font-size="6.3" text-anchor="middle" font-weight="normal" font-style="normal" fill="#231f20" stroke="#231f20" stroke-width="0.1" >d6</text>
<text x="337.2" y="360.6" font-size="6.3" text-anchor="middle" font-weight="normal" font-style="normal" fill="#231f20" stroke="#231f20" stroke-width="0.1" >d10</text>
<text x="362" y="263.2" font-size="11.3" text-anchor="start" font-weight="bold" font-style="normal" fill="#000" stroke="#000" stroke-width="0.1" >I</text>
<rect x="401.5" y="265" width="7.5" height="4.3" fill="#a5102e"/><rect x="401.5" y="273.8" width="7.5" height="4.3" fill="#2b4b82"/>
<text x="412.3" y="269.2" font-size="5" text-anchor="start" font-weight="normal" font-style="normal" fill="#231f20" stroke="#231f20" stroke-width="0.1" >WT</text>
<text x="412.3" y="278" font-size="5" text-anchor="start" font-weight="normal" font-style="normal" fill="#231f20" stroke="#231f20" stroke-width="0.1" >cKO</text>
<text transform="translate(369.2 317.3) rotate(-90)" font-size="8" text-anchor="middle" textLength="55" lengthAdjust="spacingAndGlyphs" fill="#231f20" stroke="#231f20" stroke-width="0.35">Relative <tspan font-style="italic">Gpr97</tspan> mRNA</text>
<path d="M392.6 285.3V316M392.6 321.2V349.6M389.6 349.1H485.2M389.6 315.5H393.2M389.6 321.7H393.2" stroke="#000" stroke-width="1.3" fill="none"/>
<path d="M401.8 349V351.6M420.5 349V351.6M439.4 349V351.6M458 349V351.6M476.8 349V351.6" stroke="#000" stroke-width="1" fill="none"/>
<path d="M389.6 287.8H392.6" stroke="#000" stroke-width="1"/>
<text x="387" y="289.95" font-size="6" text-anchor="end" font-weight="normal" font-style="normal" fill="#231f20" stroke="#231f20" stroke-width="0.1" >0.06</text>
<path d="M389.6 301.9H392.6" stroke="#000" stroke-width="1"/>
<text x="387" y="304.04999999999995" font-size="6" text-anchor="end" font-weight="normal" font-style="normal" fill="#231f20" stroke="#231f20" stroke-width="0.1" >0.04</text>
<path d="M389.6 315.5H392.6" stroke="#000" stroke-width="1"/>
<text x="387" y="317.65" font-size="6" text-anchor="end" font-weight="normal" font-style="normal" fill="#231f20" stroke="#231f20" stroke-width="0.1" >0.02</text>
<path d="M389.6 326.6H392.6" stroke="#000" stroke-width="1"/>
<text x="387" y="328.75" font-size="6" text-anchor="end" font-weight="normal" font-style="normal" fill="#231f20" stroke="#231f20" stroke-width="0.1" >0.01</text>
<path d="M389.6 349H392.6" stroke="#000" stroke-width="1"/>
<text x="387" y="351.15" font-size="6" text-anchor="end" font-weight="normal" font-style="normal" fill="#231f20" stroke="#231f20" stroke-width="0.1" >0</text>
<rect x="395" y="313" width="6.00" height="2.60" fill="#a5102e"/>
<rect x="395" y="322" width="6.00" height="26.50" fill="#a5102e"/>
<path d="M398.0 313V309M396.1 309H399.9" stroke="#1a1a1a" stroke-width="1.05" fill="none"/>
<rect x="402.5" y="311.6" width="6.00" height="4.00" fill="#2b4b82"/>
<rect x="402.5" y="322" width="6.00" height="26.50" fill="#2b4b82"/>
<path d="M405.5 311.6V307.4M403.6 307.4H407.4" stroke="#1a1a1a" stroke-width="1.05" fill="none"/>
<rect x="414" y="337.6" width="6.00" height="10.90" fill="#a5102e"/>
<path d="M417.0 337.6V334.4M415.1 334.4H418.9" stroke="#1a1a1a" stroke-width="1.05" fill="none"/>
<rect x="421" y="340.2" width="6.00" height="8.30" fill="#2b4b82"/>
<path d="M424.0 340.2V337.8M422.1 337.8H425.9" stroke="#1a1a1a" stroke-width="1.05" fill="none"/>
<rect x="433" y="325.6" width="6.00" height="22.90" fill="#a5102e"/>
<path d="M436.0 325.6V321.5M434.1 321.5H437.9" stroke="#1a1a1a" stroke-width="1.05" fill="none"/>
<rect x="440" y="312.6" width="6.00" height="3.00" fill="#2b4b82"/>
<rect x="440" y="322" width="6.00" height="26.50" fill="#2b4b82"/>
<path d="M443.0 312.6V309.4M441.1 309.4H444.9" stroke="#1a1a1a" stroke-width="1.05" fill="none"/>
<rect x="451.5" y="335.6" width="6.00" height="12.90" fill="#a5102e"/>
<path d="M454.5 335.6V333.4M452.6 333.4H456.4" stroke="#1a1a1a" stroke-width="1.05" fill="none"/>
<rect x="458.8" y="325.6" width="6.00" height="22.90" fill="#2b4b82"/>
<path d="M461.8 325.6V321.4M459.90000000000003 321.4H463.7" stroke="#1a1a1a" stroke-width="1.05" fill="none"/>
<rect x="470.2" y="291.6" width="6.20" height="24.00" fill="#a5102e"/>
<rect x="470.2" y="322" width="6.20" height="26.50" fill="#a5102e"/>
<path d="M473.29999999999995 291.6V289.4M471.4 289.4H475.19999999999993" stroke="#1a1a1a" stroke-width="1.05" fill="none"/>
<rect x="477.5" y="295.6" width="6.10" height="20.00" fill="#2b4b82"/>
<rect x="477.5" y="322" width="6.10" height="26.50" fill="#2b4b82"/>
<path d="M480.55 295.6V293.8M478.65000000000003 293.8H482.45" stroke="#1a1a1a" stroke-width="1.05" fill="none"/>
<text x="443" y="308.6" font-size="7" text-anchor="middle" font-weight="bold" font-style="normal" fill="#231f20" stroke="#231f20" stroke-width="0.1" >*</text>
<text x="461.7" y="320.5" font-size="7" text-anchor="middle" font-weight="bold" font-style="normal" fill="#231f20" stroke="#231f20" stroke-width="0.1" >*</text>
<text x="401.8" y="360.4" font-size="6.5" text-anchor="middle" font-weight="normal" font-style="normal" fill="#231f20" stroke="#231f20" stroke-width="0.1" >YS</text>
<text x="420.5" y="360.4" font-size="6.5" text-anchor="middle" font-weight="normal" font-style="normal" fill="#231f20" stroke="#231f20" stroke-width="0.1" >AGM</text>
<text x="439.3" y="360.4" font-size="6.5" text-anchor="middle" font-weight="normal" font-style="normal" fill="#231f20" stroke="#231f20" stroke-width="0.1" >FL</text>
<text x="457.8" y="360.4" font-size="6.5" text-anchor="middle" font-weight="normal" font-style="normal" fill="#231f20" stroke="#231f20" stroke-width="0.1" >FL</text>
<text x="476.6" y="360.4" font-size="6.5" text-anchor="middle" font-weight="normal" font-style="normal" fill="#231f20" stroke="#231f20" stroke-width="0.1" >BM</text>
<path d="M0 0H520V1.1H0ZM0 0H1.1V396H0ZM518.6 0H520V396H518.6ZM0 394.5H520V396H0Z" fill="#000"/>
</svg>
</body></html>
